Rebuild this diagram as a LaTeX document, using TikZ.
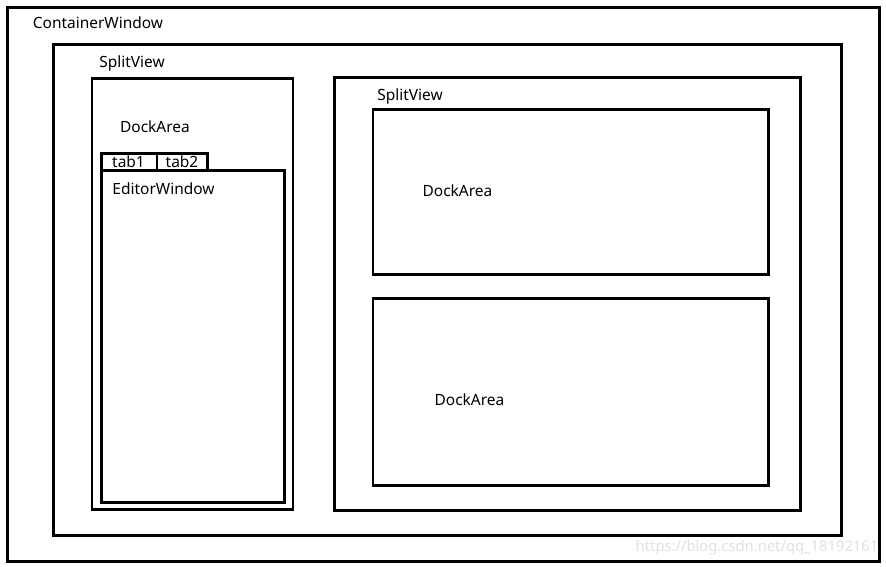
\documentclass[tikz,border=0pt]{standalone}
\usepackage{fontspec}
\setmainfont{Noto Sans}
\begin{document}
\begin{tikzpicture}[scale=0.2, line width=1.7pt]
\tikzstyle{every node}+=[inner sep=0pt, font=\fontsize{8.8}{10}\selectfont]
\useasboundingbox (0,0) rectangle (88.6,-56.6);
\draw [black] (0.75,-0.75) rectangle (87.9,-56.1);
\draw (9.8,-2.3) node (containerwindow) {ContainerWindow};
\draw [black] (5.35,-4.45) rectangle (84.1,-53.5);
\draw (13.2,-6.3) node (splitviewa) {SplitView};
\draw [black] (9.2,-7.85) rectangle (29.3,-50.9);
\draw (15.5,-12.7) node (dockareaa) {DockArea};
\draw [black] (10.15,-15.35) rectangle (15.7,-17.05);
\draw (12.85,-16.2) node (tabone) {tab1};
\draw [black] (15.7,-15.35) rectangle (20.75,-17.05);
\draw (18.2,-16.2) node (tabtwo) {tab2};
\draw [black] (10.15,-17.05) rectangle (28.45,-50.2);
\draw (16.35,-18.9) node (editorwindow) {EditorWindow};
\draw [black] (33.45,-7.75) rectangle (80.05,-51);
\draw (41,-9.6) node (splitviewb) {SplitView};
\draw [black] (37.3,-10.95) rectangle (76.85,-27.4);
\draw (45.75,-19.1) node (dockareab) {DockArea};
\draw [black] (37.3,-29.85) rectangle (76.85,-48.5);
\draw (46.95,-40) node (dockareac) {DockArea};
\draw (75.7,-54.8) node [text=black!12, font=\fontsize{8.4}{10}\selectfont] (watermark) {https://blog.csdn.net/qq\_18192161};
\end{tikzpicture}
\end{document}
